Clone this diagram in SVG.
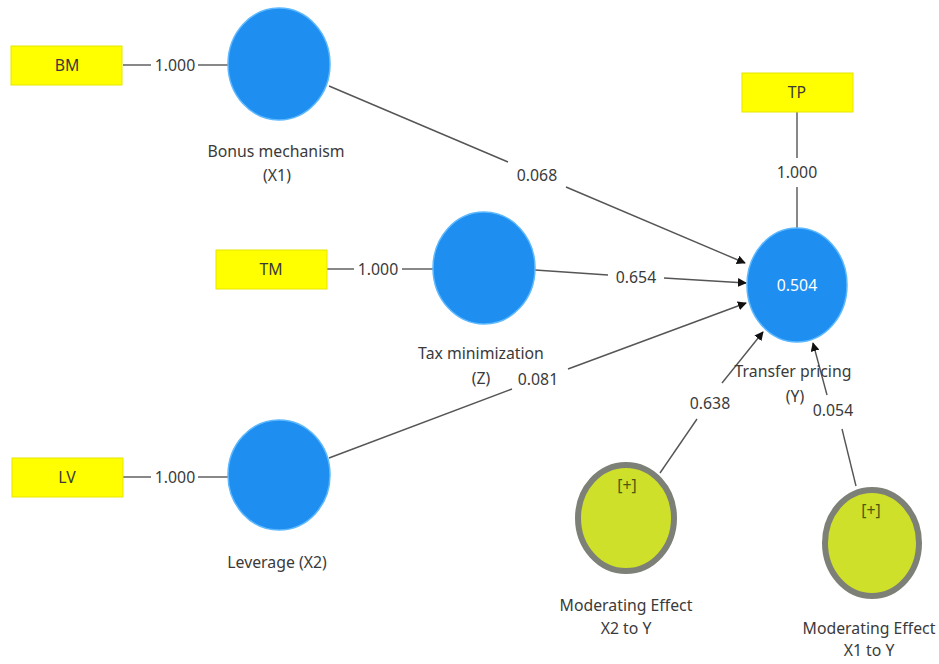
<svg xmlns="http://www.w3.org/2000/svg" width="939" height="664" viewBox="0 0 939 664">
<defs>
<style>
text{font-family:"Noto Sans","Open Sans","DejaVu Sans",sans-serif;font-size:15.8px;fill:#3a3a3a;text-anchor:middle}
.ind{fill:#ffff00;stroke:#e6e600;stroke-width:1}
.lat{fill:#1e8ef0;stroke:#5cb8ff;stroke-width:1.5}
.mod{fill:#cfe02a;stroke:#7d8077;stroke-width:6}
.ln{stroke:#555;stroke-width:1.4;fill:none}
.arr{stroke:#555;stroke-width:1.4;fill:none;marker-end:url(#ah)}
.lbl{fill:#fff}
.plus{fill:#4a5a10}
</style>
<marker id="ah" viewBox="0 0 10 10" refX="9" refY="5" markerWidth="9" markerHeight="9" orient="auto" markerUnits="userSpaceOnUse">
<path d="M0,0 L10,5 L0,10 z" fill="#111"/>
</marker>
</defs>
<rect width="939" height="664" fill="#fff"/>
<g id="connectors">
<line class="ln" x1="123" y1="65" x2="151" y2="65"/>
<line class="ln" x1="198" y1="65" x2="228" y2="65"/>
<text x="175" y="71">1.000</text>
<line class="ln" x1="327" y1="269" x2="354" y2="269"/>
<line class="ln" x1="402" y1="269" x2="433" y2="269"/>
<text x="378" y="275">1.000</text>
<line class="ln" x1="123" y1="477" x2="151" y2="477"/>
<line class="ln" x1="198" y1="477" x2="228" y2="477"/>
<text x="175" y="483">1.000</text>
<line class="ln" x1="797" y1="112" x2="797" y2="158"/>
<line class="ln" x1="797" y1="187" x2="797" y2="228"/>
<text x="797" y="178">1.000</text>
<line class="ln" x1="329" y1="86" x2="508" y2="162"/>
<line class="arr" x1="566" y1="187" x2="745" y2="263"/>
<text x="537" y="181">0.068</text>
<line class="ln" x1="535" y1="270" x2="608" y2="275"/>
<line class="arr" x1="664" y1="278" x2="746" y2="283"/>
<text x="636" y="283">0.654</text>
<line class="ln" x1="329" y1="458" x2="512" y2="389"/>
<line class="arr" x1="568" y1="369" x2="746" y2="303"/>
<text x="538" y="385">0.081</text>
<line class="ln" x1="660" y1="473" x2="697" y2="419"/>
<line class="arr" x1="722" y1="383" x2="763" y2="332"/>
<text x="710" y="409">0.638</text>
<line class="ln" x1="856" y1="486" x2="842" y2="429"/>
<line class="arr" x1="827" y1="395" x2="813" y2="343"/>
<text x="833" y="416">0.054</text>
</g>
<g id="BM"><rect class="ind" x="11" y="46" width="111" height="39"/><text x="67" y="71">BM</text></g>
<g id="TM"><rect class="ind" x="216" y="250" width="111" height="39"/><text x="271" y="275">TM</text></g>
<g id="LV"><rect class="ind" x="12" y="458" width="111" height="39"/><text x="67" y="483">LV</text></g>
<g id="TP"><rect class="ind" x="742" y="73" width="111" height="39"/><text x="797" y="98">TP</text></g>
<g id="X1"><ellipse class="lat" cx="279" cy="64" rx="51" ry="56"/><text x="276" y="157">Bonus mechanism</text><text x="277" y="181">(X1)</text></g>
<g id="Z"><ellipse class="lat" cx="484" cy="268" rx="51" ry="56"/><text x="481" y="359">Tax minimization</text><text x="481" y="384">(Z)</text></g>
<g id="X2"><ellipse class="lat" cx="279" cy="475" rx="51" ry="55"/><text x="277" y="568">Leverage (X2)</text></g>
<g id="Y"><ellipse class="lat" cx="797" cy="285" rx="50" ry="57"/><text class="lbl" x="797" y="291">0.504</text><text x="793" y="377">Transfer pricing</text><text x="795" y="402">(Y)</text></g>
<g id="MX2"><ellipse class="mod" cx="626" cy="518" rx="48" ry="53"/><text class="plus" x="627" y="491">[+]</text><text x="626" y="611">Moderating Effect</text><text x="626" y="634">X2 to Y</text></g>
<g id="MX1"><ellipse class="mod" cx="872" cy="543" rx="47" ry="53"/><text class="plus" x="871" y="516">[+]</text><text x="869" y="634">Moderating Effect</text><text x="869" y="656">X1 to Y</text></g>
</svg>
